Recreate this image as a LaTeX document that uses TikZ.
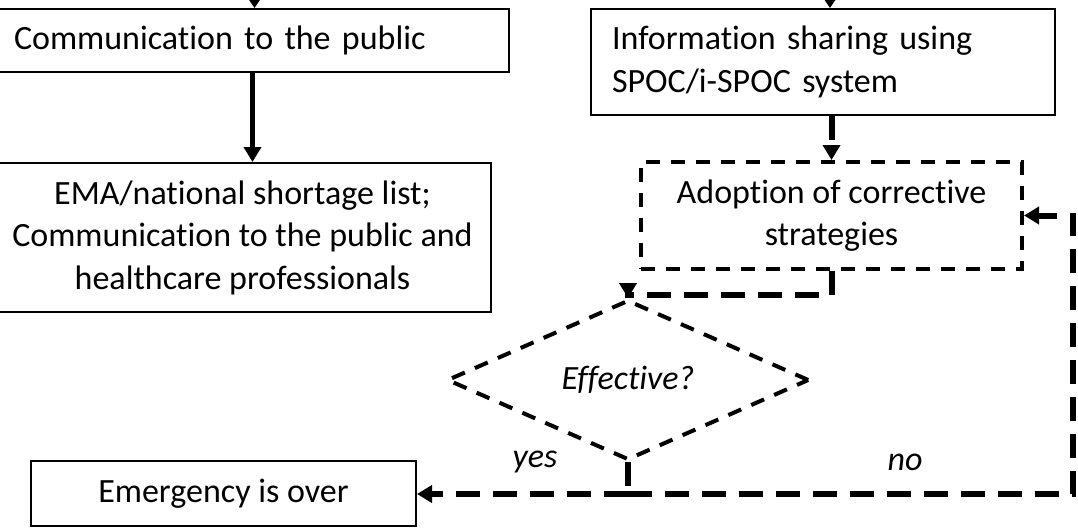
\documentclass[tikz,border=0pt]{standalone}
\usepackage{fontspec}
\setmainfont{Carlito}[Ligatures={NoCommon,NoContextual}]
\usetikzlibrary{arrows.meta,shapes.geometric,calc}
\newcommand\myfs{\fontsize{34}{42.5}\selectfont}
\begin{document}
\begin{tikzpicture}[x=1pt,y=-1pt,
  box/.style={draw, line width=2pt, rectangle, inner sep=0pt, font=\myfs},
  dbox/.style={draw, line width=4pt, dash pattern=on 14pt off 11pt, rectangle, inner sep=0pt, font=\myfs, align=center},
  thinarrow/.style={line width=2pt, -{Triangle[length=10pt,width=13pt]}},
  thickarrow/.style={line width=5pt, -{Triangle[length=15pt,width=17pt]}},
  dconn/.style={line width=6pt, dash pattern=on 24pt off 13pt},
  dtip/.style={-{Triangle[length=15pt,width=17pt]}},
  lbl/.style={font=\myfs\itshape, inner sep=0pt}
]
\useasboundingbox (0,0) rectangle (1078,532);

\node[box, minimum width=513pt, minimum height=63pt, text width=477pt, inner xsep=18pt, align=left] (A) at (252.5,40.5) {Communication to the public};
\node[box, minimum width=497pt, minimum height=149pt, align=center] (B) at (242.5,237.5) {EMA/national shortage list;\\Communication to the public and\\healthcare professionals};
\node[box, minimum width=464pt, minimum height=106pt, text width=422pt, inner xsep=21pt, align=left] (C) at (823,62) {Information sharing using\\SPOC/i-SPOC system};
\node[dbox, minimum width=381pt, minimum height=107pt] (D) at (831.5,215.5) {Adoption of corrective\\strategies};
\node[diamond, draw, line width=4pt, dash pattern=on 14pt off 11pt, minimum width=362pt, minimum height=126pt, inner sep=0pt, font=\myfs\itshape] (E) at (628,380) {Effective?};
\node[box, minimum width=385pt, minimum height=65pt, align=center] (F) at (223.5,493.5) {Emergency is over};

\coordinate (topA) at (254.5,-2);
\coordinate (topC) at (830,-2);
\coordinate (J) at (628,494);
\coordinate (R) at (1073,494);

\draw[thinarrow] (topA) -- (topA |- A.north);
\draw[thinarrow] (topC) -- (topC |- C.north);
\draw[thickarrow] (A.south) -- (A.south |- B.north);
\draw[dconn, dtip] (D.north |- C.south) -- (D.north);
\draw[dconn, dtip] (D.south) -- ++(0,24) -| (E.north);
\draw[dconn] (E.south) -- (J);
\draw[dconn, dtip] (J) -- (J -| F.east);
\draw[dconn, dtip] (J) -- (R) -- (R |- D.east) -- (D.east);

\node[lbl] (yes) at (535,462) {yes};
\node[lbl] (no) at (905,462) {no};
\end{tikzpicture}
\end{document}
